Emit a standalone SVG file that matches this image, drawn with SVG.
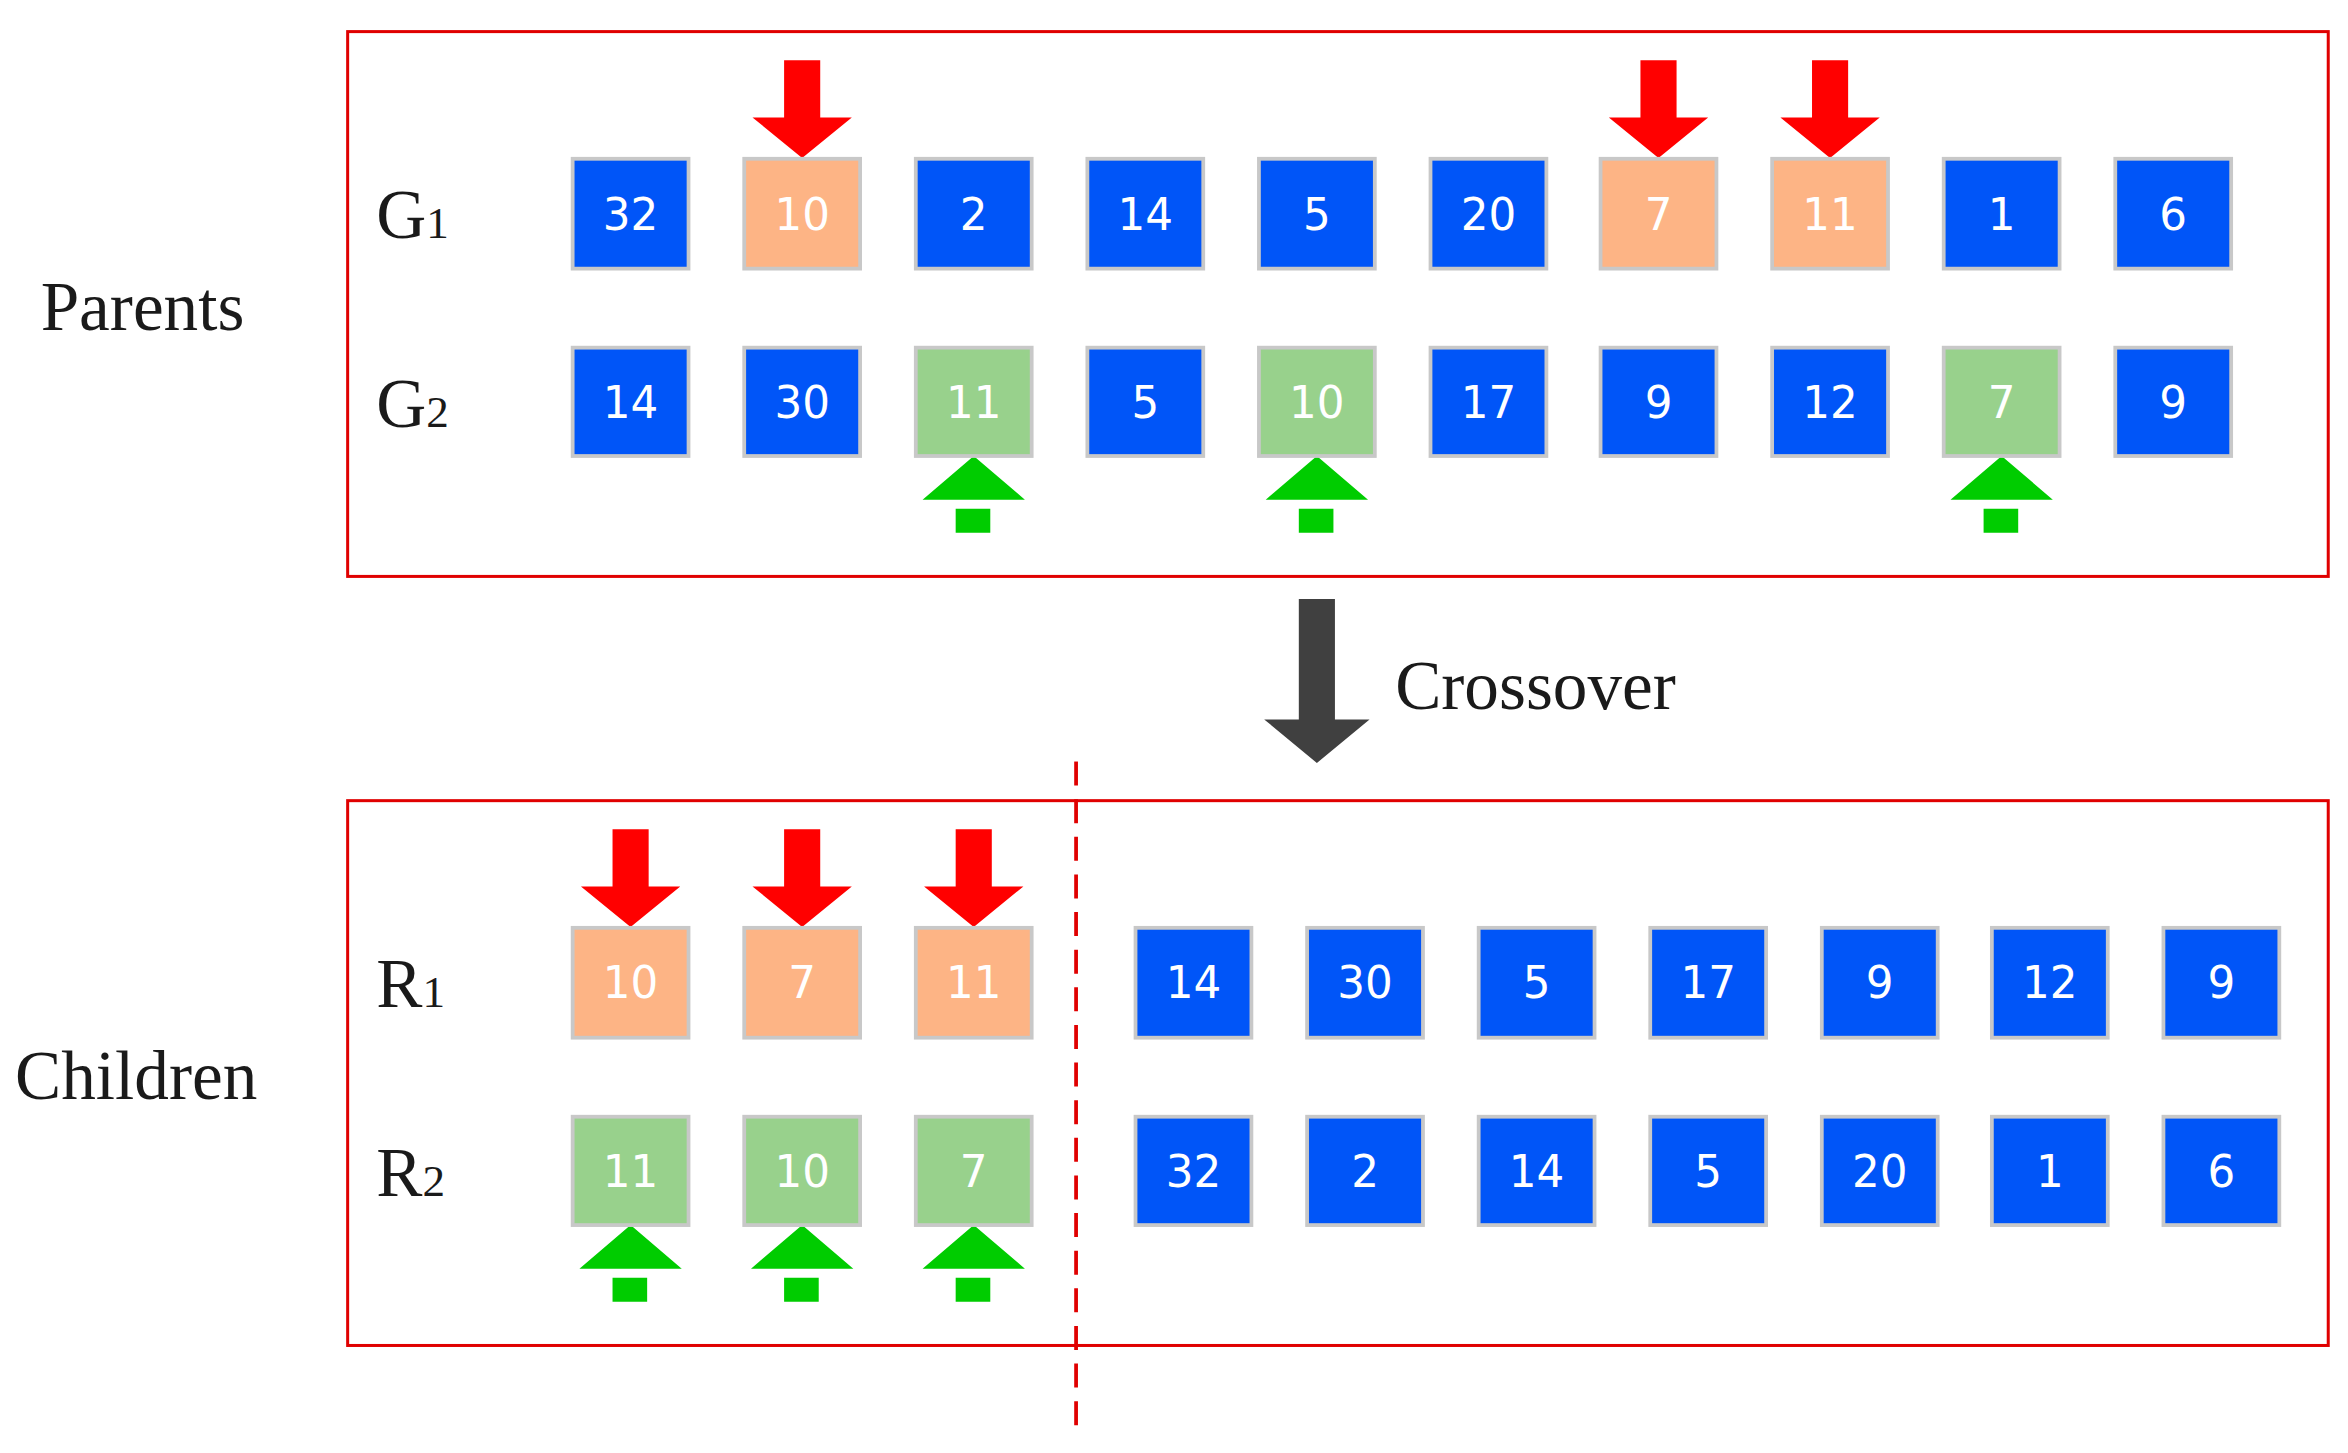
<svg xmlns="http://www.w3.org/2000/svg" width="2348" height="1453" viewBox="0 0 2348 1453">
<defs>
<style>
.frame{fill:none;stroke:#E00000;stroke-width:2}
.b{fill:#0055F8;stroke:#C8C8C8;stroke-width:2.5}
.o{fill:#FDB485;stroke:#C8C8C8;stroke-width:2.5}
.g{fill:#98D18C;stroke:#C8C8C8;stroke-width:2.5}
.n{font-family:"DejaVu Sans",sans-serif;font-size:29px;fill:#fff;text-anchor:middle}
.lab{font-family:"Liberation Serif",serif;font-size:46px;fill:#1a1a1a}
.sub{font-size:30px}
</style>
<path id="ra" d="M-12,-65 h24 v38 h21 l-33,27 l-33,-27 h21 z" fill="#FF0000"/>
<path id="ga" d="M0,0 l34,29 h-68 z M-12,35 h23 v16 h-23 z" fill="#00CC00"/>
</defs>
<rect width="2348" height="1453" fill="#fff"/>
<g transform="scale(1.505)">
<g id="frames">
<rect class="frame" x="231" y="21" width="1316" height="362"/>
<rect class="frame" x="231" y="532" width="1316" height="362"/>
<line x1="715" y1="506" x2="715" y2="950" stroke="#E00000" stroke-width="2.5" stroke-dasharray="16,9"/>
</g>
<g id="labels">
<text class="lab" x="27" y="219">Parents</text>
<text class="lab" x="10" y="730">Children</text>
<text class="lab" x="250" y="158">G<tspan class="sub">1</tspan></text>
<text class="lab" x="250" y="284">G<tspan class="sub">2</tspan></text>
<text class="lab" x="250" y="669">R<tspan class="sub">1</tspan></text>
<text class="lab" x="250" y="795">R<tspan class="sub">2</tspan></text>
<text class="lab" x="927" y="471">Crossover</text>
</g>
<g id="connectors">
<path d="M863,398 h24 v80 h23 l-35,29 l-35,-29 h23 z" fill="#404040"/>
<use href="#ra" x="533" y="105"/><use href="#ra" x="1102" y="105"/><use href="#ra" x="1216" y="105"/>
<use href="#ga" x="647" y="303"/><use href="#ga" x="875" y="303"/><use href="#ga" x="1330" y="303"/>
<use href="#ra" x="419" y="616"/><use href="#ra" x="533" y="616"/><use href="#ra" x="647" y="616"/>
<use href="#ga" x="419" y="814"/><use href="#ga" x="533" y="814"/><use href="#ga" x="647" y="814"/>
</g>
<g id="G1">
<rect class="b" x="380.5" y="105.5" width="77" height="73"/><text class="n" x="419" y="153">32</text>
<rect class="o" x="494.5" y="105.5" width="77" height="73"/><text class="n" x="533" y="153">10</text>
<rect class="b" x="608.5" y="105.5" width="77" height="73"/><text class="n" x="647" y="153">2</text>
<rect class="b" x="722.5" y="105.5" width="77" height="73"/><text class="n" x="761" y="153">14</text>
<rect class="b" x="836.5" y="105.5" width="77" height="73"/><text class="n" x="875" y="153">5</text>
<rect class="b" x="950.5" y="105.5" width="77" height="73"/><text class="n" x="989" y="153">20</text>
<rect class="o" x="1063.5" y="105.5" width="77" height="73"/><text class="n" x="1102" y="153">7</text>
<rect class="o" x="1177.5" y="105.5" width="77" height="73"/><text class="n" x="1216" y="153">11</text>
<rect class="b" x="1291.5" y="105.5" width="77" height="73"/><text class="n" x="1330" y="153">1</text>
<rect class="b" x="1405.5" y="105.5" width="77" height="73"/><text class="n" x="1444" y="153">6</text>
</g>
<g id="G2">
<rect class="b" x="380.5" y="231" width="77" height="72"/><text class="n" x="419" y="278">14</text>
<rect class="b" x="494.5" y="231" width="77" height="72"/><text class="n" x="533" y="278">30</text>
<rect class="g" x="608.5" y="231" width="77" height="72"/><text class="n" x="647" y="278">11</text>
<rect class="b" x="722.5" y="231" width="77" height="72"/><text class="n" x="761" y="278">5</text>
<rect class="g" x="836.5" y="231" width="77" height="72"/><text class="n" x="875" y="278">10</text>
<rect class="b" x="950.5" y="231" width="77" height="72"/><text class="n" x="989" y="278">17</text>
<rect class="b" x="1063.5" y="231" width="77" height="72"/><text class="n" x="1102" y="278">9</text>
<rect class="b" x="1177.5" y="231" width="77" height="72"/><text class="n" x="1216" y="278">12</text>
<rect class="g" x="1291.5" y="231" width="77" height="72"/><text class="n" x="1330" y="278">7</text>
<rect class="b" x="1405.5" y="231" width="77" height="72"/><text class="n" x="1444" y="278">9</text>
</g>
<g id="R1">
<rect class="o" x="380.5" y="616.5" width="77" height="73"/><text class="n" x="419" y="663">10</text>
<rect class="o" x="494.5" y="616.5" width="77" height="73"/><text class="n" x="533" y="663">7</text>
<rect class="o" x="608.5" y="616.5" width="77" height="73"/><text class="n" x="647" y="663">11</text>
<rect class="b" x="754.5" y="616.5" width="77" height="73"/><text class="n" x="793" y="663">14</text>
<rect class="b" x="868.5" y="616.5" width="77" height="73"/><text class="n" x="907" y="663">30</text>
<rect class="b" x="982.5" y="616.5" width="77" height="73"/><text class="n" x="1021" y="663">5</text>
<rect class="b" x="1096.5" y="616.5" width="77" height="73"/><text class="n" x="1135" y="663">17</text>
<rect class="b" x="1210.5" y="616.5" width="77" height="73"/><text class="n" x="1249" y="663">9</text>
<rect class="b" x="1323.5" y="616.5" width="77" height="73"/><text class="n" x="1362" y="663">12</text>
<rect class="b" x="1437.5" y="616.5" width="77" height="73"/><text class="n" x="1476" y="663">9</text>
</g>
<g id="R2">
<rect class="g" x="380.5" y="742" width="77" height="72"/><text class="n" x="419" y="789">11</text>
<rect class="g" x="494.5" y="742" width="77" height="72"/><text class="n" x="533" y="789">10</text>
<rect class="g" x="608.5" y="742" width="77" height="72"/><text class="n" x="647" y="789">7</text>
<rect class="b" x="754.5" y="742" width="77" height="72"/><text class="n" x="793" y="789">32</text>
<rect class="b" x="868.5" y="742" width="77" height="72"/><text class="n" x="907" y="789">2</text>
<rect class="b" x="982.5" y="742" width="77" height="72"/><text class="n" x="1021" y="789">14</text>
<rect class="b" x="1096.5" y="742" width="77" height="72"/><text class="n" x="1135" y="789">5</text>
<rect class="b" x="1210.5" y="742" width="77" height="72"/><text class="n" x="1249" y="789">20</text>
<rect class="b" x="1323.5" y="742" width="77" height="72"/><text class="n" x="1362" y="789">1</text>
<rect class="b" x="1437.5" y="742" width="77" height="72"/><text class="n" x="1476" y="789">6</text>
</g>
</g>
</svg>
